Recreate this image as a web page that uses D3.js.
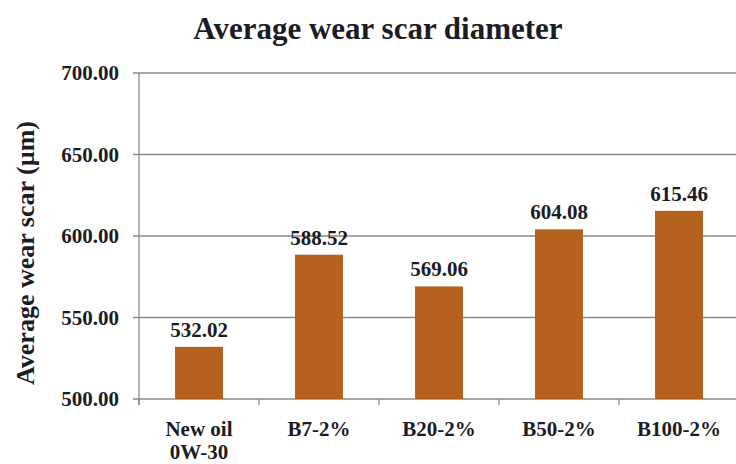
<!DOCTYPE html>
<html><head><meta charset="utf-8">
<script src="https://cdn.jsdelivr.net/npm/d3@7"></script>
<style>body{margin:0;background:#fff;} svg text, svg tspan{font-family:"Liberation Serif", serif !important;font-weight:bold !important;}</style>
</head><body><svg id="c" width="736" height="464" font-family="Liberation Serif"></svg>
<script>
const categories = [["New oil","0W-30"],["B7-2%"],["B20-2%"],["B50-2%"],["B100-2%"]];
const values = [532.02, 588.52, 569.06, 604.08, 615.46];
const yTicks = [500, 550, 600, 650, 700];
const title = "Average wear scar diameter";
const yLabel = "Average wear scar (µm)";

const FONT = "Liberation Serif";
const INK = "#1c1c24";
const svg = d3.select("#c");
function txt(g){ return g.attr("font-family", FONT).attr("font-weight","bold").attr("fill", INK); }
const m = {l:139, r:739, t:73, b:399};
const x = d3.scaleBand().domain(d3.range(categories.length)).range([m.l, m.r]).paddingInner(0.6).paddingOuter(0.3);
const xb = d3.scaleBand().domain(d3.range(categories.length)).range([m.l, m.r]);
const y = d3.scaleLinear().domain([500, 700]).range([m.b, m.t]);

svg.append("text").attr("x", 378).attr("y", 39).attr("text-anchor","middle").attr("font-size", 31).text(title).call(txt);

// grid
svg.append("g").selectAll("line").data(yTicks).join("line")
  .attr("x1", m.l - 6).attr("x2", m.r).attr("y1", d=>y(d)).attr("y2", d=>y(d))
  .attr("stroke", "#8a8a8a").attr("stroke-width", 1.3);
// y axis
svg.append("line").attr("x1", m.l).attr("x2", m.l).attr("y1", m.t).attr("y2", m.b + 6).attr("stroke","#8a8a8a").attr("stroke-width",1.3);
svg.append("g").selectAll("text").data(yTicks).join("text")
  .attr("x", m.l - 20).attr("y", d=>y(d)+7).attr("text-anchor","end").attr("font-size", 21)
  .text(d=>d3.format(".2f")(d)).call(txt);
// x ticks
svg.append("g").selectAll("line").data(d3.range(categories.length+1)).join("line")
  .attr("x1", i=>m.l + i*xb.step()).attr("x2", i=>m.l + i*xb.step())
  .attr("y1", m.b).attr("y2", m.b + 6).attr("stroke","#8a8a8a").attr("stroke-width",1.3);

// bars
svg.append("g").selectAll("rect").data(values).join("rect")
  .attr("x", (d,i)=>x(i)).attr("width", x.bandwidth())
  .attr("y", d=>y(d)).attr("height", d=>y(500)-y(d))
  .attr("fill", "#b5621e");
svg.append("g").selectAll("text").data(values).join("text")
  .attr("x", (d,i)=>x(i)+x.bandwidth()/2).attr("y", d=>y(d)-10)
  .attr("text-anchor","middle").attr("font-size", 21).text(d=>d3.format(".2f")(d)).call(txt);

// x labels
const xl = svg.append("g").selectAll("text").data(categories).join("text")
  .attr("x", (d,i)=>xb(i)+xb.bandwidth()/2).attr("y", 436).attr("text-anchor","middle").attr("font-size", 21).call(txt);
xl.selectAll("tspan").data(d=>d).join("tspan")
  .attr("x", function(){return this.parentNode.getAttribute("x");})
  .attr("dy", (d,i)=>i===0?0:23).text(d=>d);

svg.append("text").attr("transform","translate(34,253) rotate(-90)").attr("text-anchor","middle").attr("font-size", 26).text(yLabel).call(txt);
</script></body></html>
